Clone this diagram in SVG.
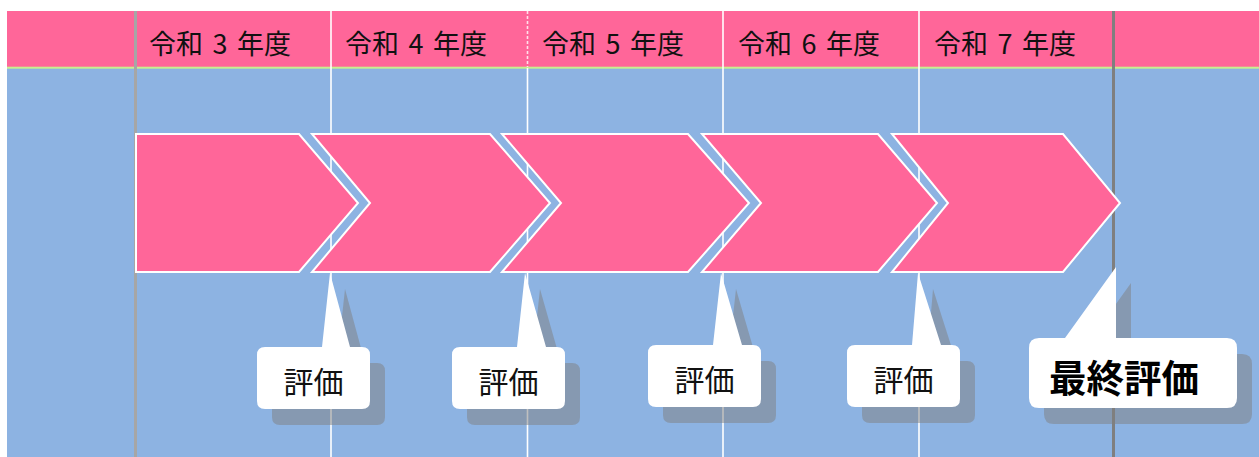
<svg xmlns="http://www.w3.org/2000/svg" xmlns:xlink="http://www.w3.org/1999/xlink" width="1259" height="457" viewBox="0 0 1259 457">
<style>
.hdr{font-family:"Noto Sans CJK JP","Noto Sans",sans-serif;font-size:27px;fill:#111;word-spacing:3.5px}
.lbl{font-family:"Noto Sans CJK JP","Noto Sans",sans-serif;font-size:30px;fill:#111;text-anchor:middle}
.big{font-family:"Noto Sans CJK JP","Noto Sans",sans-serif;font-size:37.5px;font-weight:bold;fill:#000}
.chev{fill:#ff6699;stroke:#ffffff;stroke-width:2;stroke-linejoin:miter}
.shadow{fill:#7f7f7f;opacity:0.5}
.bubble{fill:#ffffff}
.col{stroke:#ffffff;stroke-width:1.6}
</style>
<defs>
<path id="b1" d="M265,347 L322,347 L330,273 L350,347 L362,347 Q370,347 370,355 L370,401 Q370,409 362,409 L265,409 Q257,409 257,401 L257,355 Q257,347 265,347 Z"/>
<path id="b2" d="M460,347 L517,347 L525,273 L546,347 L557,347 Q565,347 565,355 L565,401 Q565,409 557,409 L460,409 Q452,409 452,401 L452,355 Q452,347 460,347 Z"/>
<path id="b3" d="M656,345 L713,345 L721,273 L742,345 L753,345 Q761,345 761,353 L761,399 Q761,407 753,407 L656,407 Q648,407 648,399 L648,353 Q648,345 656,345 Z"/>
<path id="b4" d="M855,345 L912,345 L918,273 L941,345 L952,345 Q960,345 960,353 L960,399 Q960,407 952,407 L855,407 Q847,407 847,399 L847,353 Q847,345 855,345 Z"/>
<path id="b5" d="M1039,338 L1065,338 L1116,267 L1116,338 L1227,338 Q1237,338 1237,348 L1237,398 Q1237,408 1227,408 L1039,408 Q1029,408 1029,398 L1029,348 Q1029,338 1039,338 Z"/>
</defs>
<g id="background">
<rect x="0" y="0" width="1259" height="457" fill="#ffffff"/>
<rect x="7" y="11" width="1252" height="57" fill="#ff6699"/>
<rect x="7" y="68" width="1252" height="389" fill="#8db3e2"/>
<rect x="7" y="66.7" width="1252" height="2" fill="#c9f08e"/>
</g>
<g id="grid">
<line class="col" x1="331" y1="11" x2="331" y2="457"/>
<line class="col" x1="527.5" y1="68" x2="527.5" y2="457"/>
<line class="col" x1="527.5" y1="11" x2="527.5" y2="67" stroke-dasharray="3 2" opacity="0.8"/>
<line class="col" x1="723" y1="11" x2="723" y2="457"/>
<line class="col" x1="919" y1="11" x2="919" y2="457"/>
<rect x="134" y="11" width="3" height="446" fill="#a6a6a6"/>
<rect x="1112" y="11" width="3" height="446" fill="#7f7f7f"/>
</g>
<g id="header">
<text class="hdr" x="149" y="53.5">令和 3 年度</text>
<text class="hdr" x="345" y="53.5">令和 4 年度</text>
<text class="hdr" x="542" y="53.5">令和 5 年度</text>
<text class="hdr" x="738" y="53.5">令和 6 年度</text>
<text class="hdr" x="934" y="53.5">令和 7 年度</text>
</g>
<g id="chevron1"><polygon class="chev" points="136,134 299,134 358,203 299,272 136,272"/></g>
<g id="chevron2"><polygon class="chev" points="312,134 490,134 550,203 490,272 312,272 370,203"/></g>
<g id="chevron3"><polygon class="chev" points="502,134 688,134 749,203 688,272 502,272 561,203"/></g>
<g id="chevron4"><polygon class="chev" points="702,134 878,134 937,203 878,272 702,272 761,203"/></g>
<g id="chevron5"><polygon class="chev" points="892,134 1063,134 1120,203 1063,272 892,272 948,203"/></g>
<g id="callout1">
<use xlink:href="#b1" class="shadow" transform="translate(15,16)"/>
<use xlink:href="#b1" class="bubble"/>
<text class="lbl" x="313.5" y="392.5">評価</text>
</g>
<g id="callout2">
<use xlink:href="#b2" class="shadow" transform="translate(15,16)"/>
<use xlink:href="#b2" class="bubble"/>
<text class="lbl" x="508.5" y="392.5">評価</text>
</g>
<g id="callout3">
<use xlink:href="#b3" class="shadow" transform="translate(15,16)"/>
<use xlink:href="#b3" class="bubble"/>
<text class="lbl" x="704.5" y="390.5">評価</text>
</g>
<g id="callout4">
<use xlink:href="#b4" class="shadow" transform="translate(15,16)"/>
<use xlink:href="#b4" class="bubble"/>
<text class="lbl" x="903.5" y="390.5">評価</text>
</g>
<g id="callout5">
<use xlink:href="#b5" class="shadow" transform="translate(15,16)"/>
<use xlink:href="#b5" class="bubble"/>
<text class="big" x="1049" y="391.5">最終評価</text>
</g>
<g id="connectors"></g>
</svg>
